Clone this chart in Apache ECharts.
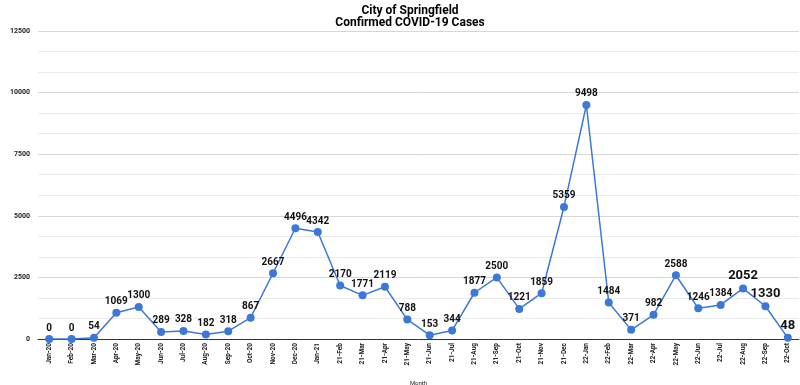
<!DOCTYPE html>
<html>
<head>
<meta charset="utf-8">
<script src="https://cdn.jsdelivr.net/npm/echarts@6/dist/echarts.min.js"></script>
<style>html,body{margin:0;padding:0;background:#fff}#c{width:800px;height:385px}</style>
</head>
<body>
<div id="c"></div>
<script>
const titleLines = ['City of Springfield', 'Confirmed COVID-19 Cases'];
const months = ['Jan-20','Feb-20','Mar-20','Apr-20','May-20','Jun-20','Jul-20','Aug-20','Sep-20','Oct-20','Nov-20','Dec-20','Jan-21','21-Feb','21-Mar','21-Apr','21-May','21-Jun','21-Jul','21-Aug','21-Sep','21-Oct','21-Nov','21-Dec','22-Jan','22-Feb','22-Mar','22-Apr','22-May','22-Jun','22-Jul','22-Aug','22-Sep','22-Oct'];
const cases = [0,0,54,1069,1300,289,328,182,318,867,2667,4496,4342,2170,1771,2119,788,153,344,1877,2500,1221,1859,5359,9498,1484,371,982,2588,1246,1384,2052,1330,48];
const yTicks = [0, 2500, 5000, 7500, 10000, 12500];

const bigLabelIdx = [31, 32, 33];
const shiftedLabelIdx = [30];

const seriesData = cases.map((v, i) => {
  const d = { value: v };
  if (bigLabelIdx.includes(i)) {
    d.label = { fontSize: 13 };
  } else if (shiftedLabelIdx.includes(i)) {
    d.label = { offset: [19, 3] };
  }
  return d;
});

const chart = echarts.init(document.getElementById('c'));
chart.setOption({
  animation: false,
  backgroundColor: '#fff',
  title: {
    text: titleLines.join('\n'),
    left: 405,
    top: 0,
    textAlign: 'center',
    textStyle: { fontFamily: 'Roboto', fontWeight: 'bold', fontSize: 12, color: '#000', lineHeight: 12 }
  },
  grid: { left: 38, right: 1, top: 31, bottom: 46, containLabel: false, outerBoundsMode: 'none' },
  xAxis: {
    type: 'category',
    data: months,
    name: 'Month',
    nameLocation: 'middle',
    nameGap: 41,
    nameTextStyle: { fontFamily: 'Roboto', fontSize: 6, color: '#222' },
    axisLine: { lineStyle: { color: '#333', width: 1 } },
    axisTick: { show: false },
    axisLabel: { rotate: 90, interval: 0, fontFamily: 'Roboto', fontSize: 6.5, fontWeight: 'bold', color: '#222', margin: 4 }
  },
  yAxis: {
    type: 'value',
    min: yTicks[0],
    max: yTicks[yTicks.length - 1],
    interval: yTicks[1] - yTicks[0],
    name: '# of Cases',
    nameLocation: 'middle',
    nameGap: 30,
    nameTextStyle: { fontFamily: 'Roboto', fontSize: 6, color: '#333' },
    axisLine: { show: false },
    axisTick: { show: false },
    axisLabel: { fontFamily: 'Roboto', fontSize: 7, fontWeight: 'bold', color: '#222', margin: 8, formatter: v => String(v) },
    splitLine: { lineStyle: { color: '#d6d6d6', width: 1 } },
    minorTick: { show: false, splitNumber: 3 },
    minorSplitLine: { show: true, lineStyle: { color: '#ebebeb', width: 1 } }
  },
  series: [{
    type: 'line',
    data: seriesData,
    symbol: 'circle',
    symbolSize: 8,
    itemStyle: { color: '#3c78d8' },
    lineStyle: { color: '#3c78d8', width: 1.5 },
    label: {
      show: true,
      position: 'top',
      distance: 2,
      fontFamily: 'Roboto',
      fontWeight: 'bold',
      fontSize: 10,
      color: '#111'
    },
    labelLayout: { hideOverlap: false }
  }]
});
</script>
</body>
</html>
